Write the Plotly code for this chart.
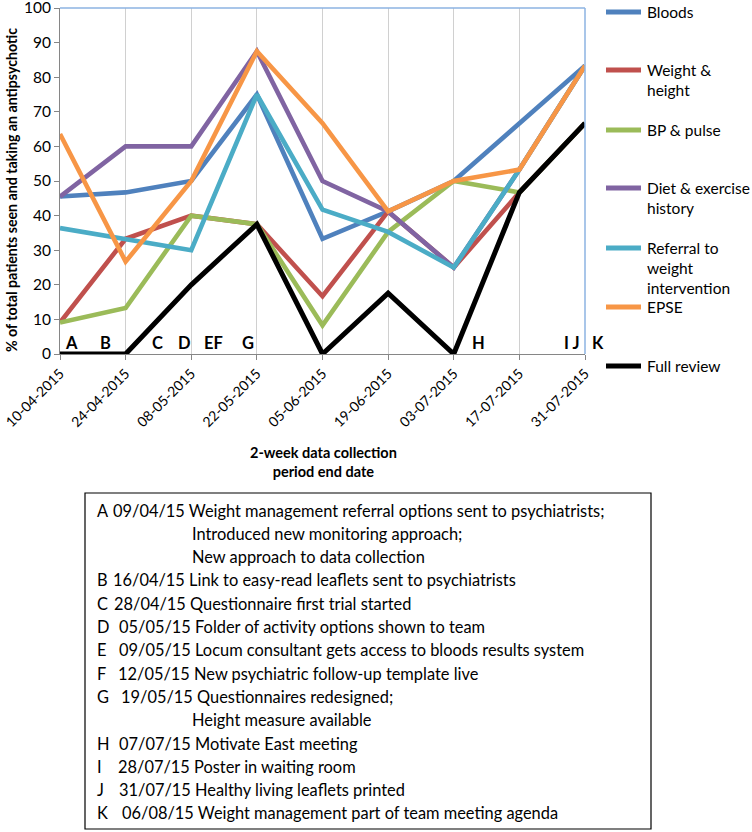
import plotly.graph_objects as go

# ---------------- data ----------------
dates = ["10-04-2015", "24-04-2015", "08-05-2015", "22-05-2015", "05-06-2015",
         "19-06-2015", "03-07-2015", "17-07-2015", "31-07-2015"]
bloods = [45.5, 46.7, 50.0, 75.0, 33.3, 41.2, 50.0, 66.7, 83.3]
weight_height = [9.1, 33.3, 40.0, 37.5, 16.7, 41.2, 25.0, 46.7, 66.7]
bp_pulse = [9.1, 13.3, 40.0, 37.5, 8.3, 35.3, 50.0, 46.7, 66.7]
diet_exercise = [45.5, 60.0, 60.0, 87.5, 50.0, 41.2, 25.0, 53.3, 83.3]
referral = [36.4, 33.3, 30.0, 75.0, 41.7, 35.3, 25.0, 53.3, 83.3]
epse = [63.6, 26.7, 50.0, 87.5, 66.7, 41.2, 50.0, 53.3, 83.3]
full_review = [0.0, 0.0, 20.0, 37.5, 0.0, 17.6, 0.0, 46.7, 66.7]

series_names = ["Bloods", "Weight &<br>height", "BP & pulse", "Diet & exercise<br>history",
                "Referral to<br>weight<br>intervention", "EPSE", "Full review"]
series_values = [bloods, weight_height, bp_pulse, diet_exercise, referral, epse, full_review]
series_colors = ["#4F81BD", "#C0504D", "#9BBB59", "#8064A2", "#4BACC6", "#F79646", "#000000"]

# event markers (letter, position in category units)
event_labels = ["A", "B", "C", "D", "EF", "G", "H", "I J", "K"]
event_pos = [0.18, 0.69, 1.48, 1.9, 2.34, 2.87, 6.38, 7.8, 8.2]

note_letters = ["A", "", "", "B", "C", "D", "E", "F", "G", "", "H", "I", "J", "K"]
note_texts = [
    "09/04/15 Weight management referral options sent to psychiatrists;",
    "Introduced new monitoring approach;",
    "New approach to data collection",
    "16/04/15 Link to easy-read leaflets sent to psychiatrists",
    "28/04/15 Questionnaire first trial started",
    "05/05/15 Folder of activity options shown to team",
    "09/05/15 Locum consultant gets access to bloods results system",
    "12/05/15 New psychiatric follow-up template live",
    "19/05/15 Questionnaires redesigned;",
    "Height measure available",
    "07/07/15 Motivate East meeting",
    "28/07/15 Poster in waiting room",
    "31/07/15 Healthy living leaflets printed",
    "06/08/15 Weight management part of team meeting agenda",
]

FONT = "Lato"
W, H = 752, 832
# plot area in screen pixels
L, R, T, B = 60, 585, 8, 354
# horizontal start of each note line's text (layout only)
note_x = [113, 192, 192, 113, 114, 119, 119, 118, 121, 192, 119, 118, 119, 122]


def px(p):
    return (p - L) / (R - L)


def py(p):
    return (B - p) / (B - T)


fig = go.Figure()
xs = list(range(len(dates)))
for name, vals, col in zip(series_names, series_values, series_colors):
    fig.add_trace(go.Scatter(x=xs, y=vals, mode="lines", name=name,
                             line=dict(color=col, width=5 if col == "#000000" else 4.6),
                             showlegend=False, cliponaxis=False, hoverinfo="skip"))

shapes = []
annotations = []

# plot border top/right (light blue)
shapes.append(dict(type="line", xref="paper", yref="paper", x0=0, x1=1, y0=1, y1=1,
                   line=dict(color="#8DB3E2", width=1.5)))
shapes.append(dict(type="line", xref="paper", yref="paper", x0=1, x1=1, y0=0, y1=1,
                   line=dict(color="#8DB3E2", width=1.5)))

# manual legend
leg_y = [12, 70, 130, 188, 248, 307, 366]
for name, col, yy in zip(series_names, series_colors, leg_y):
    shapes.append(dict(type="line", xref="paper", yref="paper", x0=px(606), x1=px(641),
                       y0=py(yy), y1=py(yy), line=dict(color=col, width=5)))
    annotations.append(dict(xref="paper", yref="paper", x=px(645), y=py(yy - 11),
                            xanchor="left", yanchor="top", align="left", showarrow=False,
                            text=name, font=dict(family=FONT, size=15.5, color="#000")))

# event letters
for lab, pos in zip(event_labels, event_pos):
    annotations.append(dict(xref="paper", yref="y", x=pos / 8.0, y=3.2, text="<b>%s</b>" % lab,
                            showarrow=False, xanchor="center", yanchor="middle",
                            font=dict(family=FONT, size=16.5, color="#000")))

# axis titles
annotations.append(dict(xref="paper", yref="paper", x=px(11), y=py(190), textangle=-90,
                        text="<b>% of total patients seen and taking an antipsychotic</b>",
                        showarrow=False, xanchor="center", yanchor="middle",
                        font=dict(family=FONT, size=14.2, color="#000")))
annotations.append(dict(xref="paper", yref="paper", x=px(323), y=py(462),
                        text="<b>2-week data collection<br>period end date</b>",
                        showarrow=False, xanchor="center", yanchor="middle",
                        font=dict(family=FONT, size=14.5, color="#000")))

# notes box
shapes.append(dict(type="rect", xref="paper", yref="paper", x0=px(85), x1=px(651),
                   y0=py(829), y1=py(493), line=dict(color="#000", width=1.2)))
for i, (letter, txt) in enumerate(zip(note_letters, note_texts)):
    yy = 510 + i * 23.3
    if letter:
        annotations.append(dict(xref="paper", yref="paper", x=px(95), y=py(yy), text=letter,
                                showarrow=False, xanchor="left", yanchor="middle",
                                font=dict(family=FONT, size=16.4, color="#000")))
    annotations.append(dict(xref="paper", yref="paper", x=px(note_x[i] - 2), y=py(yy), text=txt,
                            showarrow=False, xanchor="left", yanchor="middle",
                            font=dict(family=FONT, size=16.4, color="#000")))

fig.update_layout(
    width=W, height=H, autosize=False,
    margin=dict(l=L, r=W - R, t=T, b=H - B, pad=0, autoexpand=False),
    paper_bgcolor="white", plot_bgcolor="white",
    shapes=shapes, annotations=annotations,
    font=dict(family=FONT, color="#000"),
    hovermode=False,
)
fig.update_xaxes(range=[0, 8], tickmode="array", tickvals=xs, ticktext=dates, tickangle=-45,
                 automargin=False, ticklabeloverflow="allow",
                 showgrid=True, gridcolor="#D0D0D0", gridwidth=1,
                 showline=True, linecolor="#868686", linewidth=1,
                 ticks="outside", ticklen=5, tickcolor="#868686",
                 tickfont=dict(family=FONT, size=14, color="#000"), zeroline=False)
fig.update_yaxes(range=[0, 100], tickmode="array", tickvals=list(range(0, 101, 10)),
                 automargin=False, ticklabeloverflow="allow",
                 showgrid=False, showline=True, linecolor="#868686", linewidth=1,
                 ticks="outside", ticklen=5, tickcolor="#868686",
                 tickfont=dict(family=FONT, size=15.5, color="#000"), zeroline=False)

# remove the browser's default page margin so the figure sits at the window origin
fig.write_html("out.html", config={"displayModeBar": False},
               post_script="document.body.style.margin='0';")
